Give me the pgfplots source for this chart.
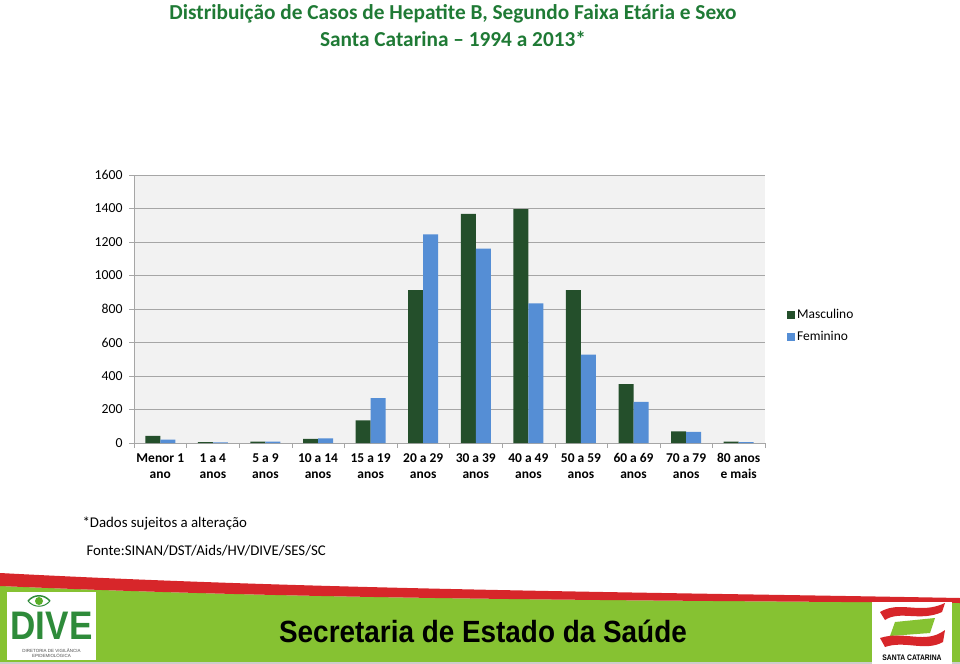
\documentclass[border=0pt]{standalone}
\usepackage{pgfplots}
\pgfplotsset{compat=1.18}
\usepackage{fontspec}
\setmainfont{Carlito}
\newfontfamily\arialf{Liberation Sans}
\definecolor{mGreen}{HTML}{244F2B}
\definecolor{fBlue}{HTML}{558ED5}
\definecolor{titleGreen}{HTML}{1F7A35}
\definecolor{bgGray}{HTML}{F2F2F2}
\definecolor{gridGray}{HTML}{A6A6A6}
\definecolor{footGreen}{HTML}{86C232}
\definecolor{footRed}{HTML}{D7262A}
\definecolor{diveGreen}{HTML}{2E8B3A}
\begin{document}
\begin{tikzpicture}
\path[use as bounding box] (0,0) rectangle (960bp,-664bp);
% title
\node[font=\fontsize{21.4}{24}\selectfont\bfseries, text=titleGreen, align=center] at (453bp,-14bp) {Distribuição de Casos de Hepatite B, Segundo Faixa Etária e Sexo};
\node[font=\fontsize{21.4}{24}\selectfont\bfseries, text=titleGreen, align=center] at (453bp,-39bp) {Santa Catarina -- 1994 a 2013*};
\begin{axis}[
  at={(134bp,-443bp)}, anchor=south west,
  width=631bp, height=268bp, scale only axis,
  ymin=0, ymax=1600, ytick={0,200,...,1600},
  xmin=-0.5, xmax=11.5,
  xtick={0,...,11},
  xticklabels={{\strut Menor 1\\ano},{\strut 1 a 4\\anos},{\strut 5 a 9\\anos},{\strut 10 a 14\\anos},{\strut 15 a 19\\anos},{\strut 20 a 29\\anos},{\strut 30 a 39\\anos},{\strut 40 a 49\\anos},{\strut 50 a 59\\anos},{\strut 60 a 69\\anos},{\strut 70 a 79\\anos},{\strut 80 anos\\e mais}},
  xticklabel style={font=\fontsize{13.5}{16}\selectfont\bfseries, align=center, yshift=0bp},
  yticklabel style={font=\fontsize{13.8}{15}\selectfont, xshift=-3bp},
  /pgf/number format/assume math mode=true,
  /pgf/number format/1000 sep={},
  major x tick style={draw=none},
  minor xtick={-0.5,0.5,...,11.5},
  minor x tick style={gridGray},
  tick align=outside,
  minor tick length=5bp,
  major tick length=5bp,
  y tick style={gridGray},
  ymajorgrids, grid style={gridGray, line width=0.8pt},
  axis background/.style={fill=bgGray},
  axis x line*=bottom, axis y line*=left,
  axis line style={gridGray, line width=0.8pt},
  ybar=0pt, bar width=15bp,
  legend style={at={(1.03,0.437)}, anchor=west, draw=none, fill=none,
     font=\fontsize{13.5}{15}\selectfont, row sep=7bp, cells={anchor=west}},
  legend image code/.code={\fill[#1] (0bp,-4bp) rectangle (8bp,4bp);},
]
\addplot[fill=mGreen, draw=none] coordinates {(0,42) (1,6) (2,8) (3,24) (4,135) (5,912) (6,1368) (7,1396) (8,912) (9,352) (10,70) (11,8)};
\addplot[fill=fBlue, draw=none] coordinates {(0,20) (1,4) (2,8) (3,28) (4,268) (5,1245) (6,1161) (7,833) (8,527) (9,245) (10,66) (11,6)};
\legend{Masculino, Feminino}
\end{axis}
% footnotes
\node[anchor=west, font=\fontsize{14.9}{17}\selectfont] at (79bp,-523bp) {*Dados sujeitos a alteração};
\node[anchor=west, font=\fontsize{14.9}{17}\selectfont] at (83bp,-551bp) {Fonte:SINAN/DST/Aids/HV/DIVE/SES/SC};
% footer
\fill[footGreen] (0,-586bp) .. controls (320bp,-600bp) and (640bp,-600bp) .. (960bp,-603bp) -- (960bp,-662bp) -- (0,-662bp) -- cycle;
\fill[footRed] (0,-573bp) .. controls (320bp,-590bp) and (640bp,-592bp) .. (960bp,-598bp) -- (960bp,-603bp) .. controls (640bp,-600bp) and (320bp,-600bp) .. (0,-586bp) -- cycle;
\fill[gray!40] (0,-662bp) rectangle (960bp,-664bp);
\node[font=\arialf\bfseries\fontsize{28}{30}\selectfont, yscale=1.1] at (483bp,-631bp) {Secretaria de Estado da Saúde};
% left logo
\fill[white] (7bp,-592bp) rectangle (96bp,-660bp);
\draw[diveGreen, line width=1.5bp] (28bp,-601bp) .. controls (34bp,-594bp) and (44bp,-594bp) .. (50bp,-601bp);
\draw[diveGreen, line width=1bp] (28bp,-601bp) .. controls (34bp,-608bp) and (44bp,-608bp) .. (50bp,-601bp);
\fill[diveGreen!70!lime] (39bp,-601bp) circle (4bp);
\node[font=\arialf\bfseries\fontsize{40}{40}\selectfont, text=diveGreen, xscale=0.88, inner sep=0pt] at (51.5bp,-626bp) {DIVE};
\node[font=\arialf\fontsize{4.5}{5}\selectfont, align=center, text=black!70, inner sep=0pt] at (51.5bp,-653bp) {DIRETORIA DE VIGILÂNCIA\\EPIDEMIOLÓGICA};
% right logo
\fill[white] (872bp,-602bp) rectangle (952bp,-664bp);
\fill[footRed] (880bp,-612bp) .. controls (900bp,-600bp) and (920bp,-615bp) .. (945bp,-603bp) -- (942bp,-612bp) .. controls (920bp,-622bp) and (900bp,-610bp) .. (885bp,-620bp) -- cycle;
\fill[footGreen] (895bp,-622bp) -- (935bp,-618bp) -- (930bp,-633bp) -- (890bp,-636bp) -- cycle;
\fill[footRed] (880bp,-638bp) .. controls (905bp,-630bp) and (925bp,-645bp) .. (945bp,-630bp) -- (943bp,-642bp) .. controls (925bp,-652bp) and (905bp,-640bp) .. (885bp,-647bp) -- cycle;
\node[font=\arialf\bfseries\fontsize{8}{9}\selectfont, xscale=0.85] at (912bp,-658bp) {SANTA CATARINA};
\end{tikzpicture}
\end{document}
